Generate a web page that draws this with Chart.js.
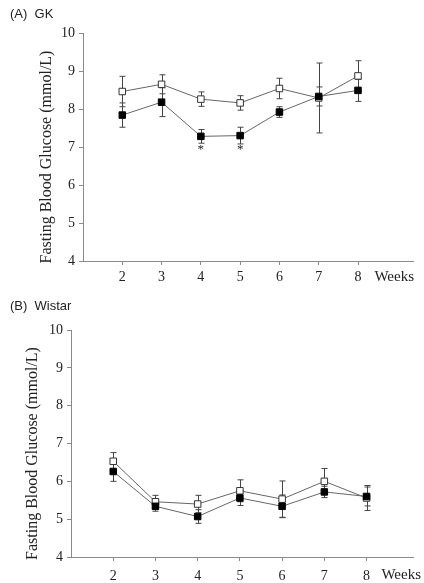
<!DOCTYPE html>
<html>
<head>
<meta charset="utf-8">
<script src="https://cdn.jsdelivr.net/npm/chart.js@4.4.0/dist/chart.umd.min.js"></script>
<style>
  body { margin: 0; background: #fff; }
  #wrap { position: relative; width: 424px; height: 583px; }
  .panel { position: absolute; left: 0; width: 424px; }
</style>
</head>
<body>
<div id="wrap">
  <div class="panel" style="top:0;height:290px"><canvas id="gk"></canvas></div>
  <div class="panel" style="top:290px;height:293px"><canvas id="wistar"></canvas></div>
</div>
<script>
// Weeks on the x axis
const weeks = [2, 3, 4, 5, 6, 7, 8];

// (A) GK rats
const gkOpen = [8.46, 8.65, 8.26, 8.16, 8.54, 8.29, 8.87];
const gkOpenErr = [0.40, 0.25, 0.19, 0.19, 0.27, 0.92, 0.40];
const gkFilled = [7.84, 8.18, 7.28, 7.30, 7.92, 8.33, 8.49];
const gkFilledErr = [0.32, 0.38, 0.18, 0.22, 0.14, 0.25, 0.29];
const gkStars = [4, 5]; // weeks marked with *

// (B) Wistar rats
const wiOpen = [6.53, 5.46, 5.40, 5.75, 5.53, 6.00, 5.56];
const wiOpenErr = [0.23, 0.17, 0.23, 0.29, 0.48, 0.34, 0.33];
const wiFilled = [6.26, 5.34, 5.07, 5.56, 5.34, 5.72, 5.60];
const wiFilledErr = [0.26, 0.13, 0.18, 0.20, 0.30, 0.15, 0.25];

const yTicks = [4, 5, 6, 7, 8, 9, 10];

const serif = '"Liberation Serif", "Times New Roman", serif';
const axisGrey = '#8a8a8a';

// Draws error bars (under the points), stars, axis titles and panel labels
const extrasPlugin = {
  id: 'extras',
  beforeDatasetsDraw(chart, args, opts) {
    const { ctx } = chart;
    const xs = chart.scales.x, ys = chart.scales.y;
    ctx.save();
    ctx.strokeStyle = '#444';
    ctx.lineWidth = 1;
    opts.errors.forEach(({ values, errs }) => {
      weeks.forEach((w, i) => {
        const x = Math.round(xs.getPixelForValue(w)) + 0.5;
        const yt = ys.getPixelForValue(values[i] + errs[i]);
        const yb = ys.getPixelForValue(values[i] - errs[i]);
        ctx.beginPath();
        ctx.moveTo(x, yt); ctx.lineTo(x, yb);
        ctx.moveTo(x - 3, yt); ctx.lineTo(x + 3, yt);
        ctx.moveTo(x - 3, yb); ctx.lineTo(x + 3, yb);
        ctx.stroke();
      });
    });
    ctx.restore();
  },
  afterDraw(chart, args, opts) {
    const { ctx, chartArea } = chart;
    const xs = chart.scales.x, ys = chart.scales.y;
    ctx.save();
    ctx.fillStyle = '#222';
    ctx.font = '13px "Liberation Sans", Arial, sans-serif';
    ctx.textAlign = 'left';
    ctx.textBaseline = 'alphabetic';
    ctx.fillText(opts.label, 10, opts.labelY);

    ctx.font = '15px ' + serif;
    ctx.textAlign = 'right';
    ctx.textBaseline = 'middle';
    ctx.fillText('Weeks', opts.weeksX, opts.weeksY);

    // y axis title
    ctx.save();
    ctx.translate(opts.yTitleX, (chartArea.top + chartArea.bottom) / 2 + 10);
    ctx.rotate(-Math.PI / 2);
    ctx.textAlign = 'center';
    ctx.font = '16px ' + serif;
    ctx.fillText('Fasting Blood Glucose (mmol/L)', 0, 0);
    ctx.restore();

    ctx.font = '13px ' + serif;
    ctx.textAlign = 'center';
    (opts.stars || []).forEach(w => {
      ctx.fillText('*', xs.getPixelForValue(w), ys.getPixelForValue(opts.starY) + 3);
    });
    ctx.restore();
  }
};

function makePanel(id, p) {
  const pts = arr => weeks.map((w, i) => ({ x: w, y: arr[i] }));
  return new Chart(document.getElementById(id), {
    type: 'line',
    data: {
      datasets: [{
        label: 'filled',
        data: pts(p.filled),
        order: 0,
        borderColor: '#666',
        borderWidth: 1,
        pointStyle: 'rect',
        pointRadius: 4.6,
        pointBackgroundColor: '#000',
        pointBorderColor: '#000',
        pointBorderWidth: 1
      }, {
        label: 'open',
        data: pts(p.open),
        order: 1,
        borderColor: '#666',
        borderWidth: 1,
        pointStyle: 'rect',
        pointRadius: 4.6,
        pointBackgroundColor: '#fff',
        pointBorderColor: '#333',
        pointBorderWidth: 1
      }]
    },
    options: {
      responsive: true,
      maintainAspectRatio: false,
      animation: false,
      layout: { padding: { top: p.top, right: 11, left: 0, bottom: 0 } },
      scales: {
        x: {
          type: 'linear',
          min: 1,
          max: p.xMax,
          afterBuildTicks: s => { s.ticks = weeks.map(v => ({ value: v })); },
          afterFit: s => { s.height = p.xHeight; },
          border: { color: axisGrey, width: 1 },
          grid: { drawOnChartArea: false, drawTicks: true, tickLength: 4, color: axisGrey },
          ticks: { color: '#222', font: { family: serif, size: 14 }, padding: p.xPad, maxRotation: 0 }
        },
        y: {
          min: 4,
          max: 10,
          afterBuildTicks: s => { s.ticks = yTicks.map(v => ({ value: v })); },
          afterFit: s => { s.width = p.yWidth; },
          border: { color: axisGrey, width: 1 },
          grid: { drawOnChartArea: false, drawTicks: true, tickLength: 4, color: axisGrey },
          ticks: { color: '#222', font: { family: serif, size: 14 }, padding: 4 }
        }
      },
      plugins: {
        legend: { display: false },
        tooltip: { enabled: false },
        extras: {
          errors: [
            { values: p.open, errs: p.openErr },
            { values: p.filled, errs: p.filledErr }
          ],
          stars: p.stars,
          starY: 7.0,
          label: p.label,
          labelY: p.labelY,
          weeksX: p.weeksX,
          weeksY: p.weeksY,
          yTitleX: p.yTitleX
        }
      }
    },
    plugins: [extrasPlugin]
  });
}

makePanel('gk', {
  open: gkOpen, openErr: gkOpenErr, filled: gkFilled, filledErr: gkFilledErr,
  stars: gkStars, label: '(A)  GK', labelY: 18,
  top: 33, xMax: 9.4, xHeight: 29, xPad: 4, yWidth: 83,
  weeksX: 414, weeksY: 277, yTitleX: 47
});

makePanel('wistar', {
  open: wiOpen, openErr: wiOpenErr, filled: wiFilled, filledErr: wiFilledErr,
  stars: [], label: '(B)  Wistar', labelY: 20,
  top: 40, xMax: 9.1, xHeight: 26, xPad: 7, yWidth: 71,
  weeksX: 421, weeksY: 285, yTitleX: 33
});
</script>
</body>
</html>
